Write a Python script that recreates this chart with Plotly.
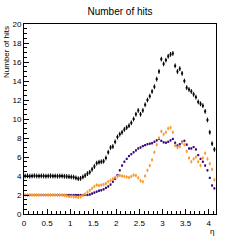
import plotly.graph_objects as go

eta = [round(0.025 + 0.05 * i, 3) for i in range(83)]

hits_all = [4.0, 4.02, 3.98, 4.0, 4.03, 4.0, 3.99, 4.01, 4.0, 3.98, 4.0, 4.02, 3.99, 4.0, 3.98, 4.0,
            4.0, 3.97, 3.95, 3.93, 3.9, 3.88, 3.8, 3.72, 3.75, 3.9, 4.05, 4.25, 4.4, 4.7, 5.0, 5.35,
            5.45, 5.5, 5.55, 5.9, 6.5, 7.0, 7.1, 7.6, 8.1, 8.4, 8.6, 8.9, 9.1, 9.3, 9.6, 10.0,
            10.5, 10.9, 10.5, 10.9, 11.5, 12.0, 12.4, 12.9, 13.4, 14.2, 15.0, 16.3, 15.8, 16.2,
            16.6, 16.8, 16.9, 15.6, 15.0, 15.3, 14.8, 14.0, 13.3, 13.1, 12.9, 12.6, 12.3, 11.8,
            11.6, 11.4, 10.8, 9.9, 8.6, 7.4, 6.8]

hits_purple = [2.0] * 28 + [2.05, 2.15, 2.25, 2.35, 2.45, 2.5, 2.6, 2.75, 2.9, 3.1, 3.4, 3.7,
               4.1, 4.6, 5.1, 5.5, 5.8, 6.1, 6.3, 6.5, 6.7, 6.9, 7.0, 7.15, 7.25, 7.35, 7.4,
               7.45, 7.6, 7.75, 7.9, 7.7, 7.55, 7.5, 7.6, 7.75, 7.9, 7.5, 7.2, 7.35, 7.6, 7.7,
               7.3, 6.9, 6.9, 7.05, 6.8, 6.2, 5.8, 5.5, 5.1, 4.6, 3.8, 3.0, 2.7]

hits_orange = [2.0] * 17 + [1.95, 1.9, 1.85, 1.85, 1.8, 1.8, 1.75, 1.8, 1.95, 2.1, 2.3, 2.5,
               2.7, 2.9, 3.05, 3.0, 3.05, 3.1, 3.2, 3.4, 3.55, 3.7, 3.85, 3.95, 4.05, 4.0,
               3.95, 3.9, 3.85, 3.95, 4.1, 4.05, 3.8, 3.5, 3.4, 4.0, 4.6, 5.1, 5.7, 6.5, 7.3,
               8.0, 8.7, 8.4, 8.6, 9.0, 9.1, 8.6, 7.2, 7.0, 7.1, 7.5, 7.3, 6.6, 5.9, 5.5, 5.8,
               6.0, 5.5, 5.1, 5.9, 6.4, 5.8, 5.3, 4.7, 3.6]

FONT = "Liberation Sans, Arial, sans-serif"

fig = go.Figure()
series = [
    (hits_all, "black", 0.25),
    (hits_purple, "#3c0a78", 0.12),
    (hits_orange, "#fb9a30", 0.18),
]
for vals, col, err in series:
    fig.add_trace(go.Scatter(
        x=eta, y=vals, mode="markers",
        marker=dict(color=col, size=2, symbol="square", line=dict(width=0)),
        error_y=dict(type="constant", value=err, color=col, thickness=1, width=0),
        showlegend=False,
    ))

fig.update_layout(
    width=240, height=240,
    margin=dict(l=23, r=24, t=24, b=24),
    paper_bgcolor="white", plot_bgcolor="white",
    font=dict(family=FONT, size=8, color="black"),
    title=dict(text="Number of hits", x=0.5, xanchor="center", y=1 - 11 / 240, yanchor="middle",
               font=dict(family=FONT, size=10)),
)
fig.update_xaxes(
    range=[0, 4.16], showgrid=False, zeroline=False,
    showline=True, linecolor="black", linewidth=1, mirror=True,
    ticks="inside", ticklen=5, tickcolor="black", tickwidth=1,
    tick0=0, dtick=0.5, tickfont=dict(size=8), ticklabelstandoff=1,
    minor=dict(ticks="inside", ticklen=3, dtick=0.1, tickcolor="black", showgrid=False),
)
fig.update_yaxes(
    range=[0, 20], showgrid=False, zeroline=False,
    showline=True, linecolor="black", linewidth=1, mirror=True,
    ticks="inside", ticklen=5, tickcolor="black", tickwidth=1,
    tick0=0, dtick=2, tickfont=dict(size=8),
    minor=dict(ticks="inside", ticklen=3, dtick=0.5, tickcolor="black", showgrid=False),
)
fig.add_annotation(text="Number of hits", textangle=-90, xref="paper", yref="paper",
                   x=0, xshift=-18, y=1, xanchor="center", yanchor="top", showarrow=False,
                   font=dict(family=FONT, size=8))
fig.add_annotation(text="η", xref="paper", yref="paper", x=1, y=0, xshift=-4, yshift=-17,
                   xanchor="center", yanchor="middle", showarrow=False,
                   font=dict(family=FONT, size=8))

fig.write_html("out.html")
